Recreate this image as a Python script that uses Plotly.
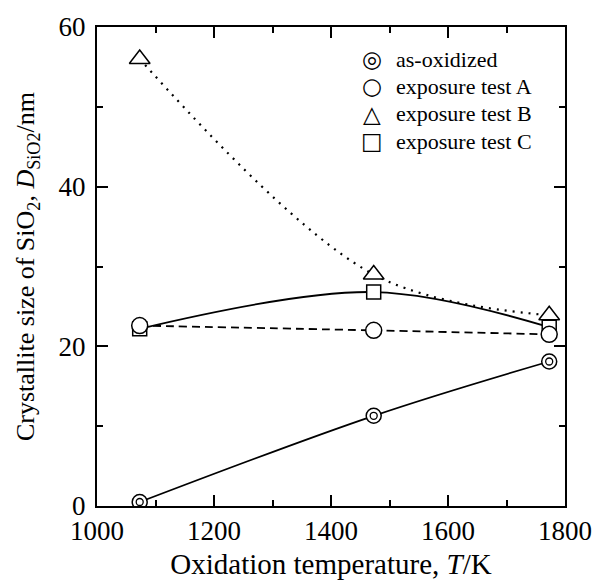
import plotly.graph_objects as go

# Oxidation temperatures (K) and crystallite sizes of SiO2 (nm)
temperature_K = [1073, 1473, 1773]
as_oxidized = [0.5, 11.3, 18.1]
exposure_A = [22.6, 22.0, 21.5]
exposure_B = [56.0, 29.0, 23.9]
exposure_C = [22.2, 26.8, 22.4]

series_names = ["as-oxidized", "exposure test A", "exposure test B", "exposure test C"]
legend_glyphs = ["\u25CE", "\u25CB", "\u25B3", "\u25A1"]

x_ticks = [1000, 1200, 1400, 1600, 1800]
y_ticks = [0, 20, 40, 60]

FONT = "Liberation Serif"
BLACK = "black"

fig = go.Figure()

# connecting curves (drawn beneath the symbols)
line_specs = [
    (exposure_B, dict(dash="2px,6px", width=2.2)),
    (exposure_C, dict(dash="solid", width=1.8)),
    (exposure_A, dict(dash="8px,5px", width=1.8)),
    (as_oxidized, dict(dash="solid", width=1.8)),
]
for values, style in line_specs:
    fig.add_trace(go.Scatter(
        x=temperature_K, y=values, mode="lines",
        line=dict(color=BLACK, shape="spline", smoothing=1.0, **style),
        showlegend=False, hoverinfo="skip",
    ))

# open symbols with white fill
marker_specs = [
    (exposure_B, "triangle-up", 18),
    (exposure_C, "square", 14),
    (exposure_A, "circle", 16),
    (as_oxidized, "circle", 15),
]
for values, symbol, size in marker_specs:
    fig.add_trace(go.Scatter(
        x=temperature_K, y=values, mode="markers",
        marker=dict(symbol=symbol, size=size, color="white",
                    line=dict(color=BLACK, width=1.5)),
        showlegend=False,
    ))
# inner ring of the as-oxidized double circle
fig.add_trace(go.Scatter(
    x=temperature_K, y=as_oxidized, mode="markers",
    marker=dict(symbol="circle-open", size=7, color=BLACK,
                line=dict(color=BLACK, width=1.3)),
    showlegend=False,
))

# legend block
legend_rows_y = [0.933, 0.876, 0.819, 0.762]
for glyph, name, yy in zip(legend_glyphs, series_names, legend_rows_y):
    fig.add_annotation(x=0.588, y=yy, xref="paper", yref="paper",
                       text=glyph, showarrow=False, xanchor="center", yanchor="middle",
                       font=dict(family="DejaVu Sans", size=23, color=BLACK))
    fig.add_annotation(x=0.634, y=yy, xref="paper", yref="paper",
                       text=name, showarrow=False, xanchor="left", yanchor="middle",
                       font=dict(family=FONT, size=22, color=BLACK))

axis_common = dict(
    showline=True, linecolor=BLACK, linewidth=2, mirror="ticks",
    ticks="inside", ticklen=11, tickwidth=1.5, tickcolor=BLACK,
    showgrid=False, zeroline=False,
    tickfont=dict(family=FONT, size=27, color=BLACK),
)

fig.update_xaxes(
    range=[1000, 1800], tickvals=x_ticks,
    minor=dict(dtick=100, ticks="inside", ticklen=6, tickwidth=1.5, tickcolor=BLACK),
    title=dict(text="Oxidation temperature, <i>T</i>/K",
               font=dict(family=FONT, size=29, color=BLACK), standoff=8),
    **axis_common,
)
fig.update_yaxes(
    range=[0, 60], tickvals=y_ticks,
    minor=dict(dtick=10, ticks="inside", ticklen=6, tickwidth=1.5, tickcolor=BLACK),
    title=dict(text="Crystallite size of SiO<sub>2</sub>, <i>D</i><sub>SiO2</sub>/nm",
               font=dict(family=FONT, size=26, color=BLACK), standoff=16),
    ticklabelstandoff=4,
    **axis_common,
)

fig.update_layout(
    width=604, height=587,
    margin=dict(l=97, r=29, t=24, b=74),
    paper_bgcolor="white", plot_bgcolor="white",
    showlegend=False,
)

fig.write_html("out.html")
